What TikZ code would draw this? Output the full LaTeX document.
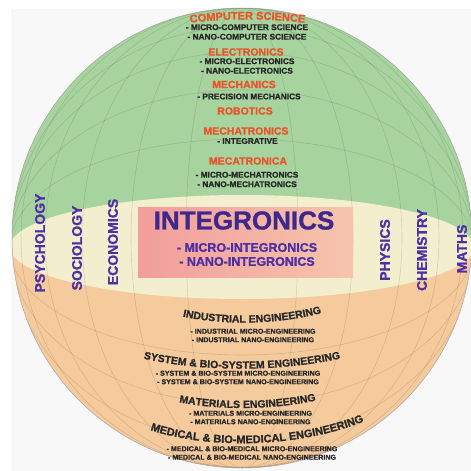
\documentclass[tikz,border=0pt]{standalone}
\usepackage{fontspec}
\newfontfamily\arialfont{Liberation Sans}[UprightFont={* Bold}, BoldFont={* Bold}, FakeBold=1.2]
\usetikzlibrary{decorations.text}

\definecolor{topgreen}{RGB}{167,212,158}
\definecolor{midcream}{RGB}{243,238,205}
\definecolor{lowpeach}{RGB}{245,203,157}
\definecolor{fieldred}{RGB}{233,84,44}
\definecolor{intpurple}{RGB}{62,40,140}
\definecolor{discpurple}{RGB}{78,48,165}
\definecolor{inkgray}{RGB}{40,40,40}
\definecolor{boxpinkL}{RGB}{242,157,155}
\definecolor{boxpinkR}{RGB}{246,197,172}
\definecolor{pagegray}{RGB}{248,248,248}

\newcommand\csfont{\arialfont\fontsize{11}{13}\selectfont}
\newcommand\engfont{\arialfont\fontsize{10.5}{12}\selectfont}
\newcommand\medfont{\arialfont\fontsize{11}{13}\selectfont}

\tikzset{
  gridline/.style={draw=black, opacity=0.12, line width=0.6pt},
  redhead/.style={text=fieldred, font=\arialfont\fontsize{10.5}{12}\selectfont, inner sep=0pt},
  subitem/.style={text=inkgray, font=\arialfont\fontsize{8.3}{9.5}\selectfont, align=center, inner sep=0pt},
  smallitem/.style={text=inkgray, font=\arialfont\fontsize{7.1}{8.5}\selectfont, align=center, inner sep=0pt},
  discipline/.style={text=discpurple, font=\arialfont\fontsize{14}{16}\selectfont, rotate=90, inner sep=0pt},
  arctext/.style={decorate, decoration={text along path, text align=center, text color=#1}},
}

\begin{document}
\begin{tikzpicture}[x=1pt, y=1pt]
  \useasboundingbox (0,0) rectangle (471,-471);
  % page
  \fill[white] (0,0) rectangle (471,-471);
  \fill[pagegray] (11,-9) rectangle (471,-471);

  % sphere: three zones and the grid
  \begin{scope}
    \clip (242,-238) circle (230);
    \fill[lowpeach] (0,0) rectangle (471,-471);
    \fill[topgreen] (0,0) rectangle (471,-247);
    \fill[midcream] (242,-247) ellipse [x radius=232, y radius=52];
    \foreach \r in {56,111,160,197,221}
      \draw[gridline] (242,-238) ellipse [x radius=\r, y radius=230];
    \foreach \r in {108,157,195,220}
      \draw[gridline] (242,-247) ellipse [x radius=232, y radius=\r];
  \end{scope}
  \draw[black!35, line width=0.5pt] (242,-238) circle (230);

  % middle band
  \node[left color=boxpinkL, right color=boxpinkR, minimum width=215, minimum height=70, inner sep=0pt] (intbox) at (245.5,-242) {};
  \node[text=intpurple, font=\arialfont\fontsize{26}{30}\selectfont, inner sep=0pt] (integ) at (244,-220.5) {INTEGRONICS};
  \node[text=discpurple, font=\arialfont\fontsize{12.5}{14}\selectfont, align=center, inner sep=0pt] (intsub) at (247,-254.5) {- MICRO-INTEGRONICS\\- NANO-INTEGRONICS};

  \node[discipline] (psy) at (40,-243) {PSYCHOLOGY};
  \node[discipline] (soc) at (77,-248) {SOCIOLOGY};
  \node[discipline] (eco) at (113,-242) {ECONOMICS};
  \node[discipline] (phy) at (385,-250) {PHYSICS};
  \node[discipline] (che) at (422,-250) {CHEMISTRY};
  \node[discipline] (mat) at (462,-249) {MATHS};

  % green cap
  \path[arctext=fieldred, decoration={text={|\csfont|COMPUTER SCIENCE}}] (182,-24) .. controls (220,-18) and (275,-18) .. (313,-24);
  \node[subitem] (cssub) at (247,-32) {- MICRO-COMPUTER SCIENCE\\- NANO-COMPUTER SCIENCE};
  \node[redhead] (elec) at (246,-52) {ELECTRONICS};
  \node[subitem] (elecsub) at (247,-66) {- MICRO-ELECTRONICS\\- NANO-ELECTRONICS};
  \node[redhead] (mech) at (244,-84.5) {MECHANICS};
  \node[subitem] (mechsub) at (249,-96.5) {- PRECISION MECHANICS};
  \node[redhead] (robo) at (245,-111) {ROBOTICS};
  \node[redhead] (mtron) at (246,-131) {MECHATRONICS};
  \node[subitem] (mtronsub) at (247.5,-141) {- INTEGRATIVE};
  \node[redhead] (mtrca) at (248,-161) {MECATRONICA};
  \node[subitem] (mtrcasub) at (247,-179.5) {- MICRO-MECHATRONICS\\- NANO-MECHATRONICS};

  % peach base
  \path[arctext=inkgray, decoration={text={|\engfont|INDUSTRIAL ENGINEERING}}] (172,-314) .. controls (220,-327) and (285,-325) .. (332,-310);
  \node[smallitem] (indsub) at (253,-335.5) {- INDUSTRIAL MICRO-ENGINEERING\\- INDUSTRIAL NANO-ENGINEERING};
  \path[arctext=inkgray, decoration={text={|\engfont|SYSTEM {\&} BIO-SYSTEM ENGINEERING}}] (132,-356) .. controls (200,-373) and (280,-373) .. (352,-356);
  \node[smallitem] (syssub) at (238,-377.5) {- SYSTEM \& BIO-SYSTEM MICRO-ENGINEERING\\- SYSTEM \& BIO-SYSTEM NANO-ENGINEERING};
  \path[arctext=inkgray, decoration={text={|\engfont|MATERIALS ENGINEERING}}] (168,-400) .. controls (215,-411) and (275,-411) .. (327,-398);
  \node[smallitem] (matsub) at (250.5,-417.5) {- MATERIALS MICRO-ENGINEERING\\- MATERIALS NANO-ENGINEERING};
  \path[arctext=inkgray, decoration={text={|\medfont|MEDICAL {\&} BIO-MEDICAL ENGINEERING}}] (142,-427) .. controls (200,-450) and (300,-450) .. (372,-418);
  \node[smallitem] (medsub) at (252,-453) {- MEDICAL \& BIO-MEDICAL MICRO-ENGINEERING\\- MEDICAL \& BIO-MEDICAL NANO-ENGINEERING};
\end{tikzpicture}
\end{document}
